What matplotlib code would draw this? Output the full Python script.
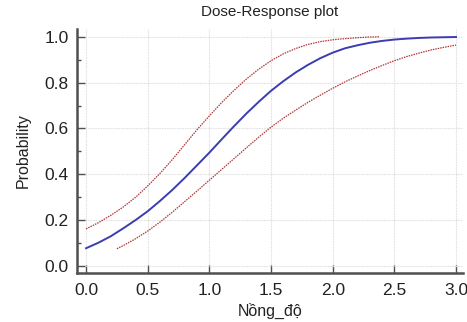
import numpy as np
import matplotlib
matplotlib.use('Agg')
import matplotlib.pyplot as plt
from matplotlib.ticker import MultipleLocator

plt.rcParams['font.family'] = ['Liberation Sans', 'DejaVu Sans']

# Fitted curve
x_fit = [0.0, 0.1, 0.2, 0.3, 0.4, 0.5, 0.6, 0.7, 0.8, 0.9, 1.0,
         1.1, 1.2, 1.3, 1.4, 1.5, 1.6, 1.7, 1.8, 1.9, 2.0,
         2.1, 2.2, 2.3, 2.4, 2.5, 2.6, 2.7, 2.8, 2.9, 3.0]
p_fit = [0.079, 0.103, 0.131, 0.165, 0.201, 0.240, 0.285, 0.333, 0.385, 0.440, 0.495,
         0.553, 0.610, 0.665, 0.716, 0.764, 0.806, 0.844, 0.877, 0.906, 0.930,
         0.949, 0.962, 0.973, 0.981, 0.987, 0.991, 0.994, 0.996, 0.997, 0.998]

# Upper confidence band
x_up = [0.0, 0.1, 0.2, 0.3, 0.4, 0.5, 0.6, 0.7, 0.8, 0.9, 1.0,
        1.1, 1.2, 1.3, 1.4, 1.5, 1.6, 1.7, 1.8, 1.9, 2.0,
        2.1, 2.2, 2.3, 2.38]
p_up = [0.163, 0.190, 0.222, 0.258, 0.300, 0.350, 0.405, 0.465, 0.530, 0.595, 0.655,
        0.713, 0.766, 0.815, 0.858, 0.895, 0.925, 0.948, 0.966, 0.978, 0.986,
        0.991, 0.995, 0.998, 0.999]

# Lower confidence band
x_lo = [0.25, 0.3, 0.4, 0.5, 0.6, 0.7, 0.8, 0.9, 1.0,
        1.1, 1.2, 1.3, 1.4, 1.5, 1.6, 1.7, 1.8, 1.9, 2.0,
        2.1, 2.2, 2.3, 2.4, 2.5, 2.6, 2.7, 2.8, 2.9, 3.0]
p_lo = [0.077, 0.090, 0.120, 0.154, 0.193, 0.236, 0.282, 0.328, 0.375,
        0.422, 0.469, 0.516, 0.562, 0.606, 0.645, 0.680, 0.714, 0.745, 0.775,
        0.803, 0.828, 0.852, 0.874, 0.895, 0.913, 0.928, 0.942, 0.953, 0.963]

fig = plt.figure(figsize=(4.67, 3.22), dpi=100)
ax = fig.add_axes([0.165, 0.152, 0.826, 0.758])

ax.plot(x_up, p_up, color='#b03535', lw=0.9, ls=(0, (1.2, 0.8)))
ax.plot(x_lo, p_lo, color='#b03535', lw=0.9, ls=(0, (1.2, 0.8)))
ax.plot(x_fit, p_fit, color='#3c3cb0', lw=1.4)

ax.set_xlim(-0.073, 3.055)
ax.set_ylim(-0.029, 1.033)
ax.xaxis.set_major_locator(MultipleLocator(0.5))
ax.yaxis.set_major_locator(MultipleLocator(0.2))
ax.yaxis.set_minor_locator(MultipleLocator(0.1))

ax.grid(True, which='major', color='#e2e2e2', lw=0.8, ls=(0, (1.5, 0.8)))
ax.set_axisbelow(True)

for s in ['top', 'right']:
    ax.spines[s].set_visible(False)
for s in ['left', 'bottom']:
    ax.spines[s].set_color('#505050')
    ax.spines[s].set_linewidth(1.8)

ax.tick_params(axis='both', which='major', direction='in', length=6, width=1,
               color='#505050', labelsize=12.5, labelcolor='#222222')
ax.tick_params(axis='x', which='major', pad=7)
ax.tick_params(axis='y', which='major', pad=6)
ax.tick_params(axis='y', which='minor', direction='in', length=3, width=1,
               color='#505050')
ax.xaxis.set_major_formatter(plt.FormatStrFormatter('%.1f'))
ax.yaxis.set_major_formatter(plt.FormatStrFormatter('%.1f'))

ax.set_title('Dose-Response plot', fontsize=11, color='#222222', pad=9)
ax.set_xlabel('Nồng_độ', fontsize=11.5, color='#222222', labelpad=4)
ax.set_ylabel('Probability', fontsize=11.5, color='#222222', labelpad=10)

fig.savefig('out.png', dpi=100)
